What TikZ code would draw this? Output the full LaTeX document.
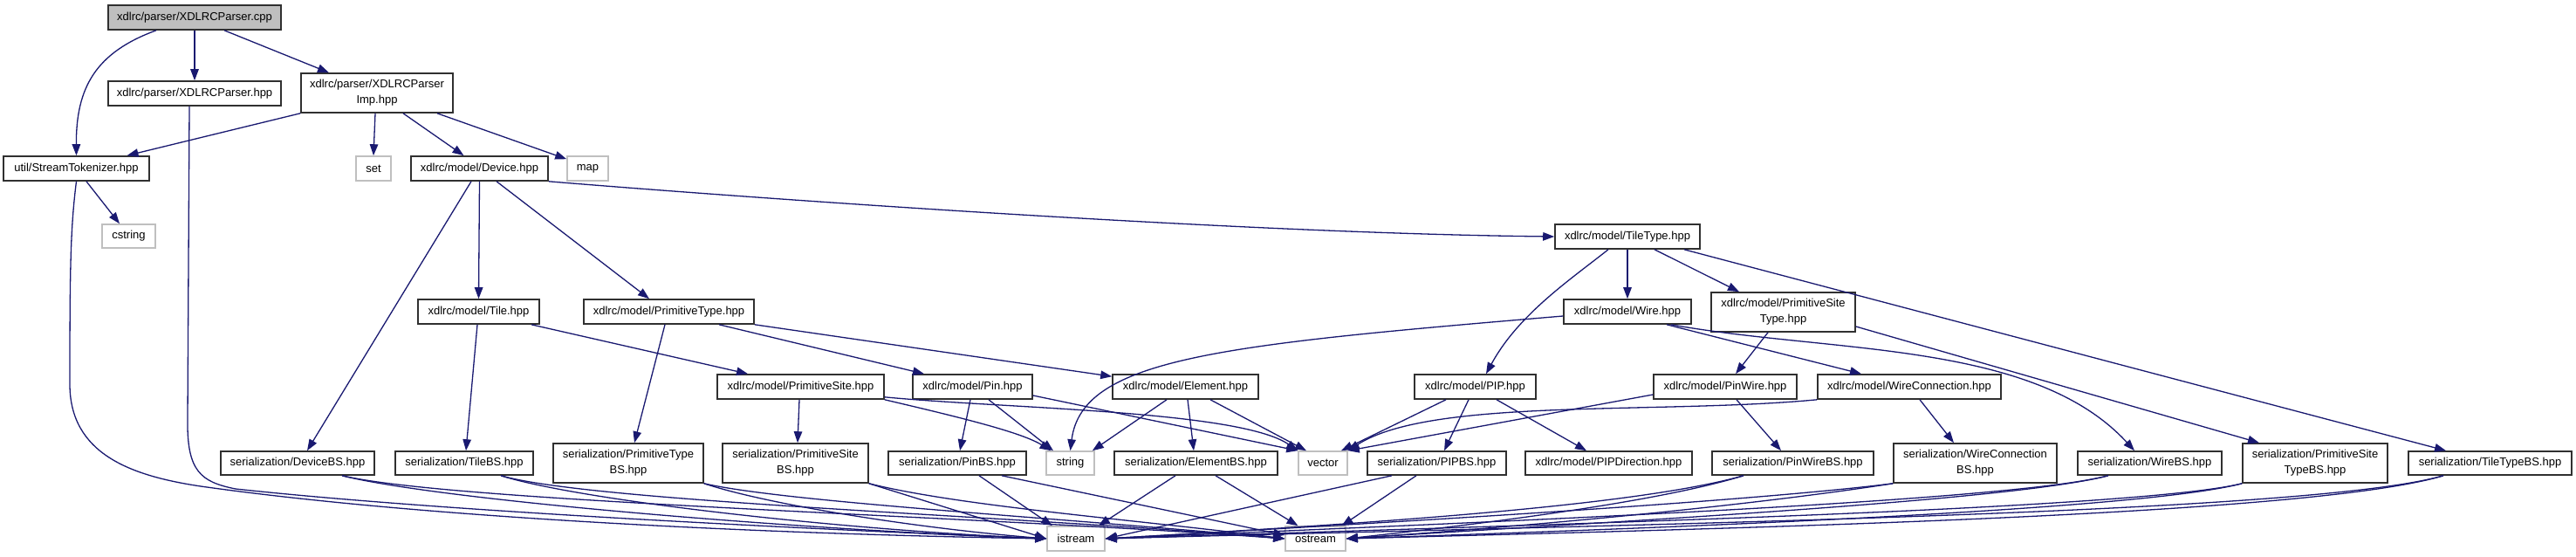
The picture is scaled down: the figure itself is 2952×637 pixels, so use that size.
\documentclass[tikz,border=0pt]{standalone}
\usepackage{fontspec}
\setmainfont{Liberation Sans}
\usetikzlibrary{arrows.meta}
\definecolor{edgec}{HTML}{191970}
\definecolor{grayb}{HTML}{BFBFBF}
\definecolor{boxb}{HTML}{303030}
\tikzset{
  box/.style={draw=boxb, line width=1.6pt, fill=white, inner sep=0pt,
    font=\fontsize{13}{18}\selectfont, align=center},
  sysbox/.style={box, draw=grayb},
  cppbox/.style={box, fill=grayb, draw=boxb},
  e/.style={draw=edgec, line width=1.3pt, -{Triangle[length=13pt,width=9.5pt]}},
}
\newcommand\nd[7][box]{\node[#1, minimum width=#5pt, minimum height=#6pt] (#2) at (#3,#4) {#7};}
\begin{document}
\begin{tikzpicture}[x=1pt,y=-1pt]
\useasboundingbox (0,0) rectangle (2952,637);
% nodes
\nd[cppbox]{cpp}{223}{20}{198}{28}{xdlrc/parser/XDLRCParser.cpp}
\nd{hpp}{223}{107}{198}{28}{xdlrc/parser/XDLRCParser.hpp}
\nd{imp}{432}{106.5}{174}{45}{xdlrc/parser/XDLRCParser\\Imp.hpp}
\nd{tok}{87.5}{193}{167}{28}{util/StreamTokenizer.hpp}
\nd[sysbox]{set}{428}{193}{40}{28}{set}
\nd{dev}{549.5}{193}{157}{28}{xdlrc/model/Device.hpp}
\nd[sysbox]{map}{673.5}{193}{47}{28}{map}
\nd[sysbox]{cstring}{147.5}{270.5}{61}{27}{cstring}
\nd{tile}{548.5}{357}{139}{28}{xdlrc/model/Tile.hpp}
\nd{ptype}{766.5}{357}{195}{28}{xdlrc/model/PrimitiveType.hpp}
\nd{ttype}{1865}{271}{166}{28}{xdlrc/model/TileType.hpp}
\nd{wire}{1865}{357}{146}{28}{xdlrc/model/Wire.hpp}
\nd{pstype}{2043.5}{357.5}{165}{45}{xdlrc/model/PrimitiveSite\\Type.hpp}
\nd{psite}{917.5}{443}{191}{28}{xdlrc/model/PrimitiveSite.hpp}
\nd{pin}{1114.5}{443}{137}{28}{xdlrc/model/Pin.hpp}
\nd{elem}{1358.5}{443}{167}{28}{xdlrc/model/Element.hpp}
\nd{pip}{1690.5}{443}{139}{28}{xdlrc/model/PIP.hpp}
\nd{pinwire}{1977}{443}{164}{28}{xdlrc/model/PinWire.hpp}
\nd{wconn}{2188}{443}{210}{28}{xdlrc/model/WireConnection.hpp}
\nd{devbs}{341}{530.5}{176}{27}{serialization/DeviceBS.hpp}
\nd{tilebs}{532}{530.5}{158}{27}{serialization/TileBS.hpp}
\nd{ptypebs}{720}{530.5}{172}{45}{serialization/PrimitiveType\\BS.hpp}
\nd{psitebs}{911.5}{530.5}{167}{45}{serialization/PrimitiveSite\\BS.hpp}
\nd{pinbs}{1097}{530.5}{158}{27}{serialization/PinBS.hpp}
\nd[sysbox]{string}{1226.5}{530.5}{55}{27}{string}
\nd{elembs}{1370.5}{530.5}{187}{27}{serialization/ElementBS.hpp}
\nd[sysbox]{vector}{1516}{530.5}{56}{27}{vector}
\nd{pipbs}{1646.5}{530.5}{159}{27}{serialization/PIPBS.hpp}
\nd{pipdir}{1843.5}{530.5}{191}{27}{xdlrc/model/PIPDirection.hpp}
\nd{pinwirebs}{2054.5}{530.5}{185}{27}{serialization/PinWireBS.hpp}
\nd{wconnbs}{2263.5}{530.5}{187}{45}{serialization/WireConnection\\BS.hpp}
\nd{wirebs}{2463.5}{530.5}{165}{27}{serialization/WireBS.hpp}
\nd{pstypebs}{2653}{530.5}{166}{45}{serialization/PrimitiveSite\\TypeBS.hpp}
\nd{ttypebs}{2853.5}{530.5}{187}{27}{serialization/TileTypeBS.hpp}
\nd[sysbox]{istream}{1233}{617}{66}{28}{istream}
\nd[sysbox]{ostream}{1507.5}{617}{69}{28}{ostream}
% top edges
\draw[e] ([xshift=-44pt]cpp.south) .. controls (110,60) and (87,100) .. (tok.north);
\draw[e] (cpp.south) -- (hpp.north);
\draw[e] ([xshift=34pt]cpp.south) -- ([xshift=-55pt]imp.north);
\draw[e] ([xshift=-6pt]hpp.south) -- (215,480) .. controls (214,540) and (230,552) .. (270,560) .. controls (500,585) and (900,605) .. (istream.west);
\draw[e] (tok.south) .. controls (81,260) and (80,300) .. (80,440) .. controls (80,520) and (150,545) .. (230,557) .. controls (500,595) and (900,612) .. (istream.west);
\draw[e] (imp.south west) -- ([xshift=58pt]tok.north);
\draw[e] ([xshift=-2pt]imp.south) -- (set.north);
\draw[e] ([xshift=30pt]imp.south) -- ([xshift=-18pt]dev.north);
\draw[e] ([xshift=69pt]imp.south) -- ([yshift=-4pt]map.north west);
\draw[e] ([xshift=11.5pt]tok.south) -- ([xshift=-10.5pt]cstring.north);
% device
\draw[e] ([xshift=-9.5pt]dev.south) -- ([xshift=11pt]devbs.north);
\draw[e] (dev.south) -- (tile.north);
\draw[e] ([xshift=19.5pt]dev.south) -- ([xshift=-22.5pt]ptype.north);
\draw[e] (dev.south east) .. controls (800,222) and (1400,267) .. (ttype.west);
% tile
\draw[e] ([xshift=-1.5pt]tile.south) -- ([xshift=2pt]tilebs.north);
\draw[e] ([xshift=60.5pt]tile.south) -- ([xshift=-60.5pt]psite.north);
% primitive type
\draw[e] ([xshift=-4.5pt]ptype.south) -- ([xshift=7pt]ptypebs.north);
\draw[e] ([xshift=57.5pt]ptype.south) -- ([xshift=-55.5pt]pin.north);
\draw[e] (ptype.south east) -- ([yshift=-3pt]elem.north west);
% primitive site
\draw[e] ([xshift=-1.5pt]psite.south) -- ([xshift=2.5pt]psitebs.north);
\draw[e] (psite.south east) .. controls (1100,478) and (1170,495) .. ([xshift=-22pt]string.north);
\draw[e] ([yshift=3pt]psite.south east) .. controls (1150,468) and (1420,470) .. (vector.north west);
% pin
\draw[e] ([xshift=-2.5pt]pin.south) -- ([xshift=3pt]pinbs.north);
\draw[e] ([xshift=18.5pt]pin.south) -- ([xshift=-19.5pt]string.north);
\draw[e] ([yshift=-10pt]pin.east) -- (vector.north west);
% element
\draw[e] ([xshift=2.5pt]elem.south) -- ([xshift=-2.5pt]elembs.north);
\draw[e] ([xshift=-21.5pt]elem.south) -- ([xshift=-3pt]string.north east);
\draw[e] ([xshift=28.5pt]elem.south) -- ([xshift=-19pt]vector.north);
% tile type
\draw[e] ([xshift=-22pt]ttype.south) .. controls (1800,320) and (1740,360) .. ([xshift=12.5pt]pip.north);
\draw[e] (ttype.south) -- (wire.north);
\draw[e] ([xshift=31pt]ttype.south) -- ([xshift=-50.5pt]pstype.north);
\draw[e] ([xshift=65pt]ttype.south) -- ([xshift=-50.5pt]ttypebs.north);
% wire
\draw[e] ([yshift=-5pt]wire.west) .. controls (1400,395) and (1240,410) .. (string.north);
\draw[e] ([xshift=45pt]wire.south) -- ([xshift=-55pt]wconn.north);
\draw[e] ([xshift=50pt]wire.south) .. controls (2100,405) and (2330,390) .. ([xshift=-17.5pt]wirebs.north);
% primitive site type
\draw[e] ([xshift=-17.5pt]pstype.south) -- ([xshift=12pt]pinwire.north);
\draw[e] ([yshift=-16.5pt]pstype.east) -- ([xshift=-64pt]pstypebs.north);
% pip
\draw[e] ([xshift=-33.5pt]pip.south) -- ([xshift=21pt]vector.north);
\draw[e] ([xshift=-7.5pt]pip.south) -- ([xshift=8.5pt]pipbs.north);
\draw[e] ([xshift=24.5pt]pip.south) -- ([xshift=-25.5pt]pipdir.north);
% pinwire
\draw[e] ([yshift=-9pt]pinwire.west) -- (vector.north east);
\draw[e] ([xshift=13pt]pinwire.south) -- ([xshift=-13.5pt]pinwirebs.north);
% wire connection
\draw[e] (wconn.south west) .. controls (1900,475) and (1640,455) .. (vector.north east);
\draw[e] ([xshift=12pt]wconn.south) -- ([xshift=-24.5pt]wconnbs.north);
% serialization -> istream / ostream
\draw[e] ([xshift=51pt]devbs.south) .. controls (500,572) and (900,606) .. (istream.west);
\draw[e] ([xshift=51pt]devbs.south) .. controls (520,575) and (1100,590) .. (ostream.west);
\draw[e] ([xshift=42pt]tilebs.south) .. controls (660,572) and (950,606) .. (istream.west);
\draw[e] ([xshift=42pt]tilebs.south) .. controls (680,575) and (1150,590) .. (ostream.west);
\draw[e] (ptypebs.south east) .. controls (880,578) and (1050,605) .. (istream.west);
\draw[e] (ptypebs.south east) .. controls (900,575) and (1200,592) .. (ostream.west);
\draw[e] (psitebs.south east) -- (istream.west);
\draw[e] (psitebs.south east) .. controls (1100,580) and (1300,595) .. (ostream.west);
\draw[e] ([xshift=25pt]pinbs.south) -- ([xshift=-27pt]istream.north);
\draw[e] ([xshift=51pt]pinbs.south) -- ([yshift=4pt]ostream.west);
\draw[e] ([xshift=-23.5pt]elembs.south) -- ([xshift=-8pt]istream.north east);
\draw[e] ([xshift=22.5pt]elembs.south) -- ([xshift=-20pt]ostream.north);
\draw[e] ([xshift=-51.5pt]pipbs.south) -- (istream.east);
\draw[e] ([xshift=-23.5pt]pipbs.south) -- ([xshift=30pt]ostream.north);
\draw[e] ([xshift=-56.5pt]pinwirebs.south) .. controls (1900,575) and (1700,600) .. (ostream.east);
\draw[e] ([xshift=-56.5pt]pinwirebs.south) .. controls (1880,578) and (1600,598) .. (istream.east);
\draw[e] (wconnbs.south west) .. controls (2000,580) and (1750,603) .. (ostream.east);
\draw[e] (wconnbs.south west) .. controls (2000,575) and (1600,598) .. (istream.east);
\draw[e] ([xshift=-47.5pt]wirebs.south) .. controls (2300,575) and (1800,600) .. (ostream.east);
\draw[e] ([xshift=-47.5pt]wirebs.south) .. controls (2300,575) and (1700,598) .. (istream.east);
\draw[e] (pstypebs.south west) .. controls (2450,585) and (1900,605) .. (ostream.east);
\draw[e] (pstypebs.south west) .. controls (2450,583) and (1800,600) .. (istream.east);
\draw[e] ([xshift=-53.5pt]ttypebs.south) .. controls (2650,590) and (2000,605) .. (ostream.east);
\draw[e] ([xshift=-53.5pt]ttypebs.south) .. controls (2650,588) and (1900,600) .. (istream.east);
\end{tikzpicture}
\end{document}
